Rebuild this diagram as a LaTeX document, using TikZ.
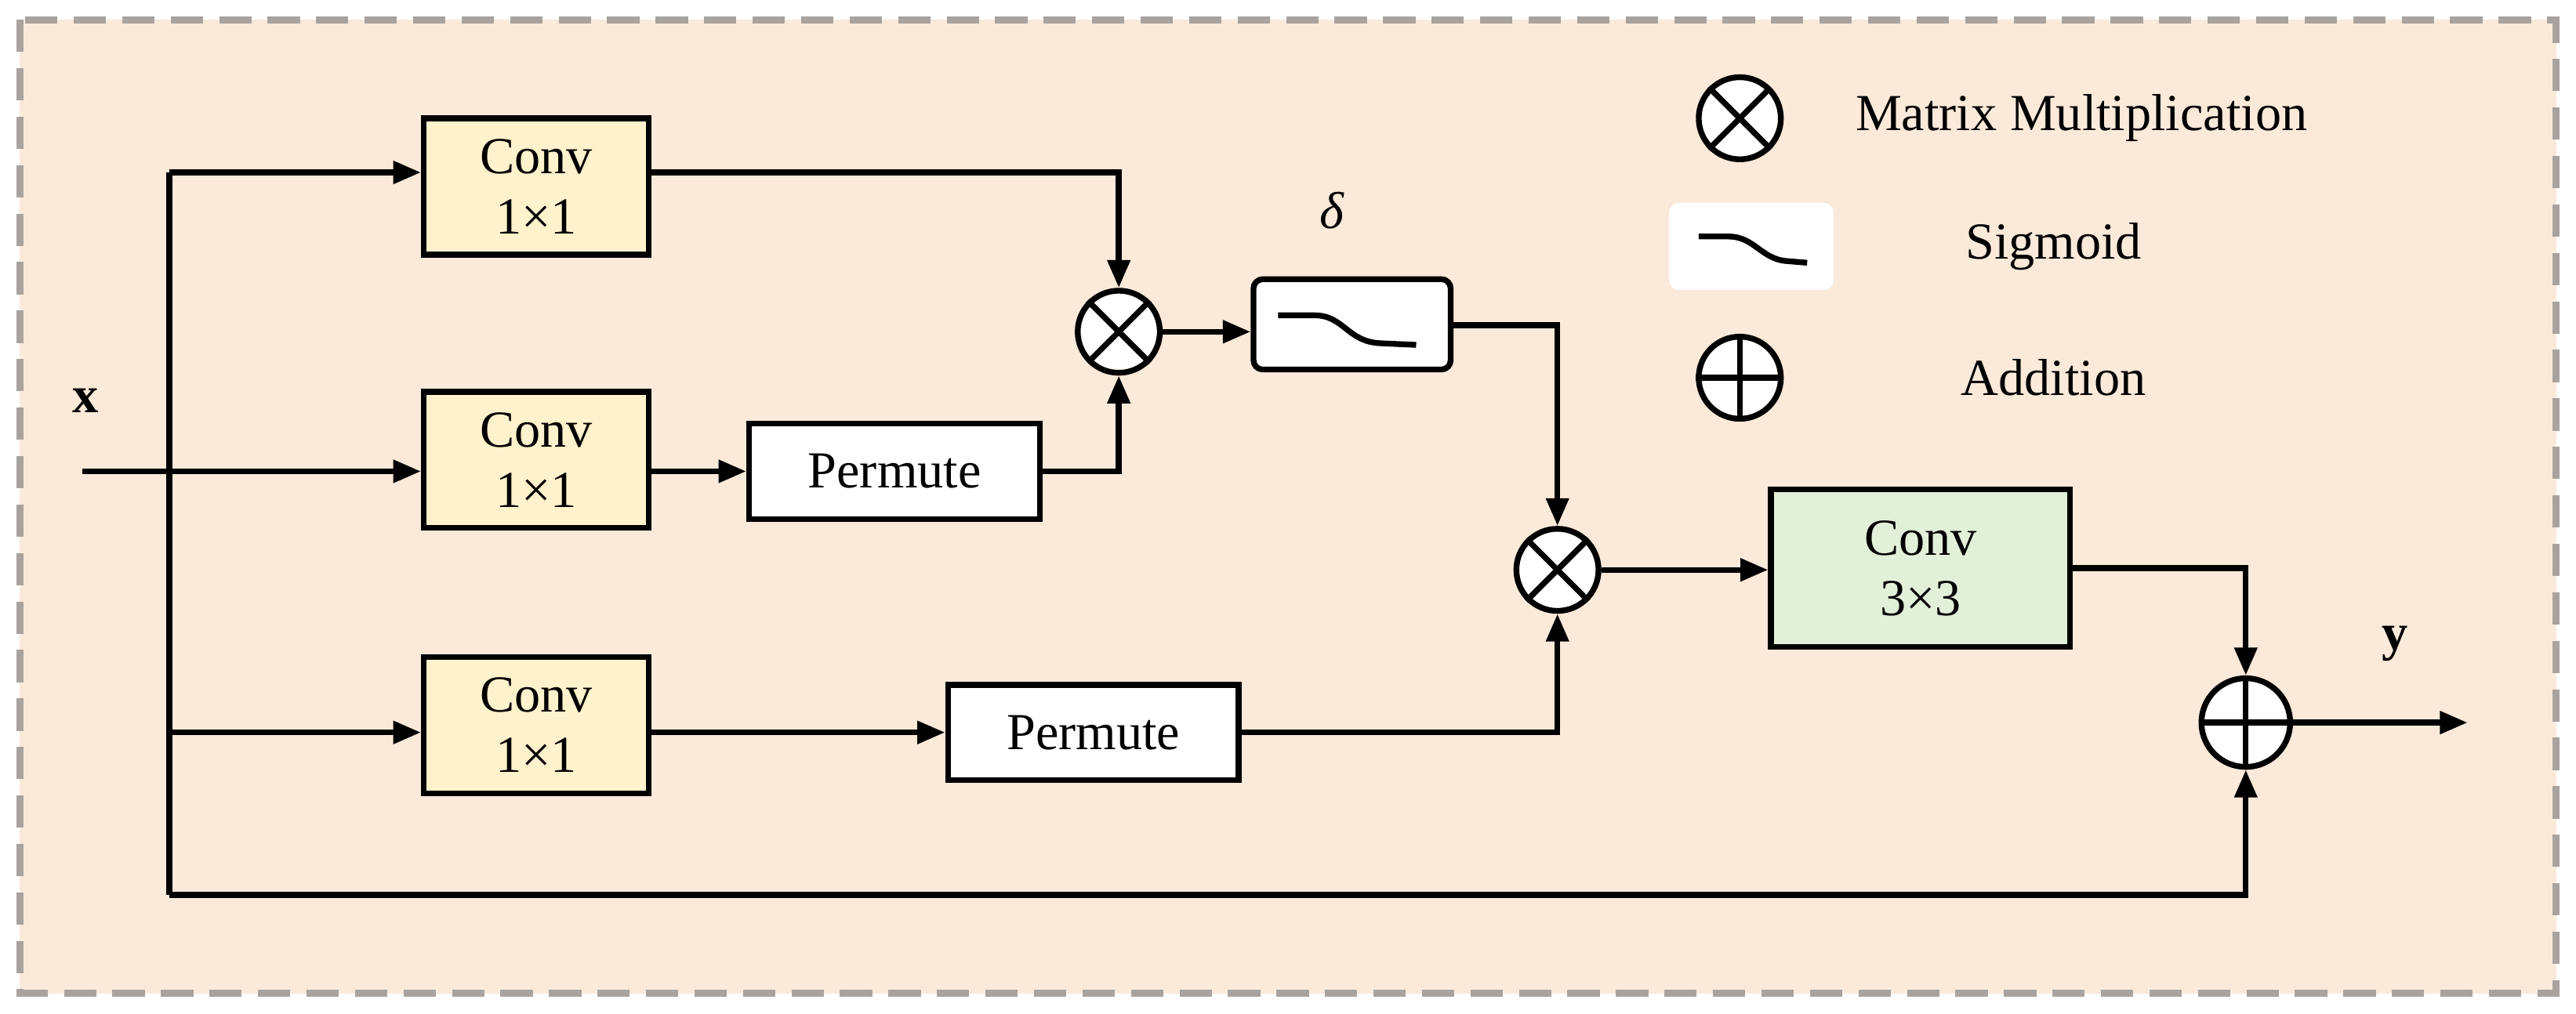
\documentclass[tikz,border=0pt]{standalone}
\usepackage{fontspec}
\setmainfont{Liberation Serif}
\usetikzlibrary{arrows.meta}
\begin{document}
\begin{tikzpicture}[x=0.05cm,y=-0.05cm,
  ln/.style={line width=5pt,draw=black},
  ar/.style={ln,-{Triangle[length=24pt,width=19pt]}},
  box/.style={ln,draw=black,font=\fontsize{45}{52}\selectfont,align=center,inner sep=0pt},
  conv/.style={box,fill=convY,minimum width=6.85cm,minimum height=4.15cm},
  perm/.style={box,fill=white,minimum width=8.85cm,minimum height=2.9cm},
  op/.style={circle,ln,fill=white,minimum size=2.5cm,inner sep=0pt},
  lbl/.style={font=\fontsize{45}{52}\selectfont}]
\definecolor{bg}{HTML}{FBE9DA}
\definecolor{convY}{HTML}{FFF2CC}
\definecolor{convG}{HTML}{E2F0D9}
\definecolor{dash}{HTML}{A8A39E}
\useasboundingbox (0,0) rectangle (1568,617);
\draw[fill=bg,draw=dash,line width=6pt,dash pattern=on 28pt off 14pt] (12,12) rectangle (1556,605);
% nodes
\node[conv] (c1) at (326.5,113.5) {Conv\\1×1};
\node[conv] (c2) at (326.5,280) {Conv\\1×1};
\node[conv] (c3) at (326.5,441.5) {Conv\\1×1};
\node[perm] (p1) at (544.5,287) {Permute};
\node[perm] (p2) at (665.5,446) {Permute};
\node[op] (m1) at (681,202) {};
\draw[ln] (m1.north west)--(m1.south east) (m1.north east)--(m1.south west);
\node[op] (m2) at (948,347) {};
\draw[ln] (m2.north west)--(m2.south east) (m2.north east)--(m2.south west);
\node[op,minimum size=2.7cm] (ad) at (1367,440) {};
\draw[ln] (ad.north)--(ad.south) (ad.west)--(ad.east);
\node[box,fill=white,rounded corners=8pt,minimum width=6cm,minimum height=2.75cm] (sg) at (823,197.5) {};
\draw[ln] (778,192) -- (800,192) .. controls (818,192) and (820,208) .. (840,209) -- (862,210);
\node[lbl] (dl) at (811,128) {\textit{δ}};
\node[box,fill=convG,minimum width=9.1cm,minimum height=4.8cm] (c9) at (1169,346) {Conv\\3×3};
\node[lbl,font=\fontsize{45}{52}\selectfont\bfseries] (xl) at (52,244) {x};
\node[lbl,font=\fontsize{45}{52}\selectfont\bfseries] (yl) at (1458,392) {y};
\coordinate (xin) at (50,287);
\coordinate (yout) at (1502,440);
\coordinate (b0) at (103,105);
\coordinate (b1) at (103,545);
% connectors
\draw[ar] (xin) -- (c2.west|-xin);
\draw[ln] (b0) -- (b1);
\draw[ar] (b0) -- (c1.west|-b0);
\draw[ar] (103,446) -- (c3.west|-p2);
\draw[ar] (b1) -| (ad.south);
\draw[ar] (c1.east|-b0) -| (m1.north);
\draw[ar] (c2.east|-p1) -- (p1.west);
\draw[ar] (p1.east) -| (m1.south);
\draw[ar] (m1.east) -- (sg.west|-m1);
\draw[ar] (sg.east|-0,198) -| (m2.north);
\draw[ar] (c3.east|-p2) -- (p2.west);
\draw[ar] (p2.east) -| (m2.south);
\draw[ar] (m2.east) -- (c9.west|-m2);
\draw[ar] (c9.east) -| (ad.north);
\draw[ar] (ad.east) -- (yout);
% legend
\node[op] (lm) at (1059,72) {};
\draw[ln] (lm.north west)--(lm.south east) (lm.north east)--(lm.south west);
\node[lbl,anchor=west] at (1127,72) {Matrix Multiplication};
\node[fill=white,rounded corners=8pt,minimum width=5cm,minimum height=2.65cm] (ls) at (1066,150) {};
\draw[ln] (1034,144) -- (1052,144) .. controls (1068,144) and (1072,158) .. (1088,159) -- (1100,160);
\node[lbl] at (1250,150) {Sigmoid};
\node[op] (la) at (1059,230) {};
\draw[ln] (la.north)--(la.south) (la.west)--(la.east);
\node[lbl] at (1250,230) {Addition};
\end{tikzpicture}
\end{document}
